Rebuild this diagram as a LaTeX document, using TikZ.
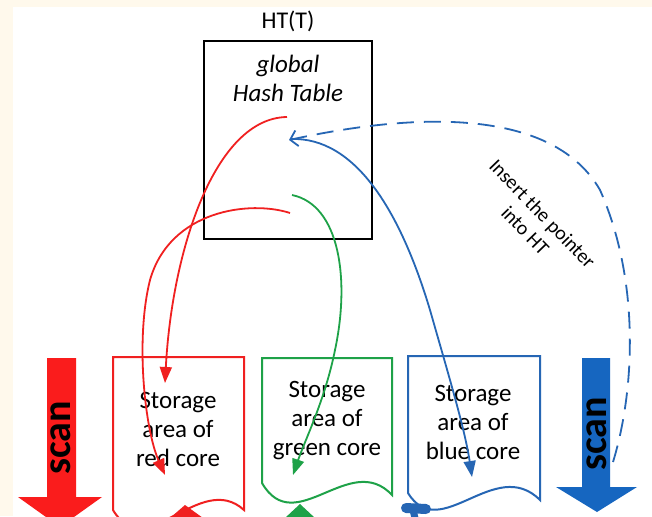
\documentclass[tikz,border=0pt]{standalone}
\usepackage{fontspec}
\setmainfont{Carlito}
\usetikzlibrary{arrows.meta}
\definecolor{cream}{RGB}{255,249,236}
\definecolor{cred}{RGB}{240,32,32}
\definecolor{cgreen}{RGB}{30,162,72}
\definecolor{cblue}{RGB}{38,102,180}
\definecolor{scanred}{RGB}{250,28,28}
\definecolor{scanblue}{RGB}{22,102,192}
\tikzset{
  docline/.style={line width=2pt, line join=miter},
  curveline/.style={line width=1.8pt},
  filledtip/.style={-{Triangle[length=16pt,width=12pt]}},
  doctext/.style={align=center, font=\fontsize{25}{29}\selectfont},
  scantext/.style={font=\fontsize{40}{44}\selectfont\bfseries, rotate=90, text=black},
}
\begin{document}
\begin{tikzpicture}[x=1pt,y=-1pt]
\useasboundingbox (0,0) rectangle (652,516);
\fill[cream] (0,0) rectangle (652,516);
\fill[white] (13,7) rectangle (652,516);
\clip (0,0) rectangle (652,516);

% Hash table
\node[font=\fontsize{24}{28}\selectfont] (htlabel) at (288,21) {HT(T)};
\node[draw, line width=2pt, minimum width=168pt, minimum height=198pt, inner sep=0pt] (ht) at (288,140) {};
\node[align=center, font=\fontsize{25}{29}\selectfont\itshape] (httext) at (288,78) {global\\Hash Table};

% scan arrows
\fill[scanred] (47,358) -- (76,358) -- (76,497) -- (102,497) -- (60,527) -- (18,497) -- (47,497) -- cycle;
\node[scantext] (scanr) at (61,438) {scan};
\fill[scanblue] (582,358) -- (610,358) -- (610,487) -- (637,487) -- (597,512) -- (556,487) -- (582,487) -- cycle;
\node[scantext] (scanb) at (597,434) {scan};

% documents
\draw[docline, cred] (113,510) -- (113,357) -- (244,357) -- (244,510) .. controls (200,470) and (146,565) .. (113,510);
\draw[docline, cgreen] (262,483) -- (262,358) -- (392,358) -- (392,495) .. controls (350,450) and (295,540) .. (262,483);
\draw[docline, cblue] (408,493) -- (408,356) -- (540,356) -- (540,500) .. controls (495,455) and (440,545) .. (408,493);

\node[doctext] (redtext) at (178,429) {Storage\\area of\\red core};
\node[doctext] (greentext) at (327,421) {Storage\\area of\\green core};
\node[doctext] (bluetext) at (473,422) {Storage\\area of\\blue core};

% bottom fragments
\fill[cred] (185,505) -- (203,518) -- (170,518) -- cycle;
\fill[cgreen] (300,504) -- (315,518) -- (285,518) -- cycle;
\draw[cblue, line width=10pt, line cap=round] (406,508) -- (426,509);
\draw[cblue, line width=7pt] (413,510) -- (415,518);

% named end points
\coordinate (rA0) at (287,117);
\coordinate (rA1) at (165,383);
\coordinate (rB0) at (290,213);
\coordinate (rBm) at (150,280);
\coordinate (rB1) at (165,475);
\coordinate (g0) at (292,195);
\coordinate (gm) at (335,350);
\coordinate (g1) at (293,475);
\coordinate (b0) at (291,139);
\coordinate (bm) at (430,310);
\coordinate (b1) at (472,477);
\coordinate (d0) at (613,462);
\coordinate (dm) at (600,190);
\coordinate (d1) at (289,140);

% connectors
\draw[curveline, cred, filledtip] (rA0) .. controls (215,118) and (172,250) .. (rA1);
\draw[curveline, cred, filledtip] (rB0) .. controls (250,200) and (170,210) .. (rBm) .. controls (135,340) and (145,430) .. (rB1);
\draw[curveline, cgreen, filledtip] (g0) .. controls (340,205) and (350,280) .. (gm) .. controls (325,400) and (305,440) .. (g1);
\draw[curveline, cblue, filledtip] (b0) .. controls (355,137) and (400,210) .. (bm) .. controls (450,380) and (465,430) .. (b1);
\draw[curveline, cblue, dash pattern=on 17pt off 10pt, -{Straight Barb[length=7pt,width=16pt,line width=1.8pt]}] (d0) .. controls (635,390) and (640,280) .. (dm) .. controls (560,120) and (450,105) .. (d1);

\node[align=center, rotate=-46, font=\fontsize{20}{24}\selectfont] (insert) at (534,222) {Insert the pointer\\into HT};
\end{tikzpicture}
\end{document}
